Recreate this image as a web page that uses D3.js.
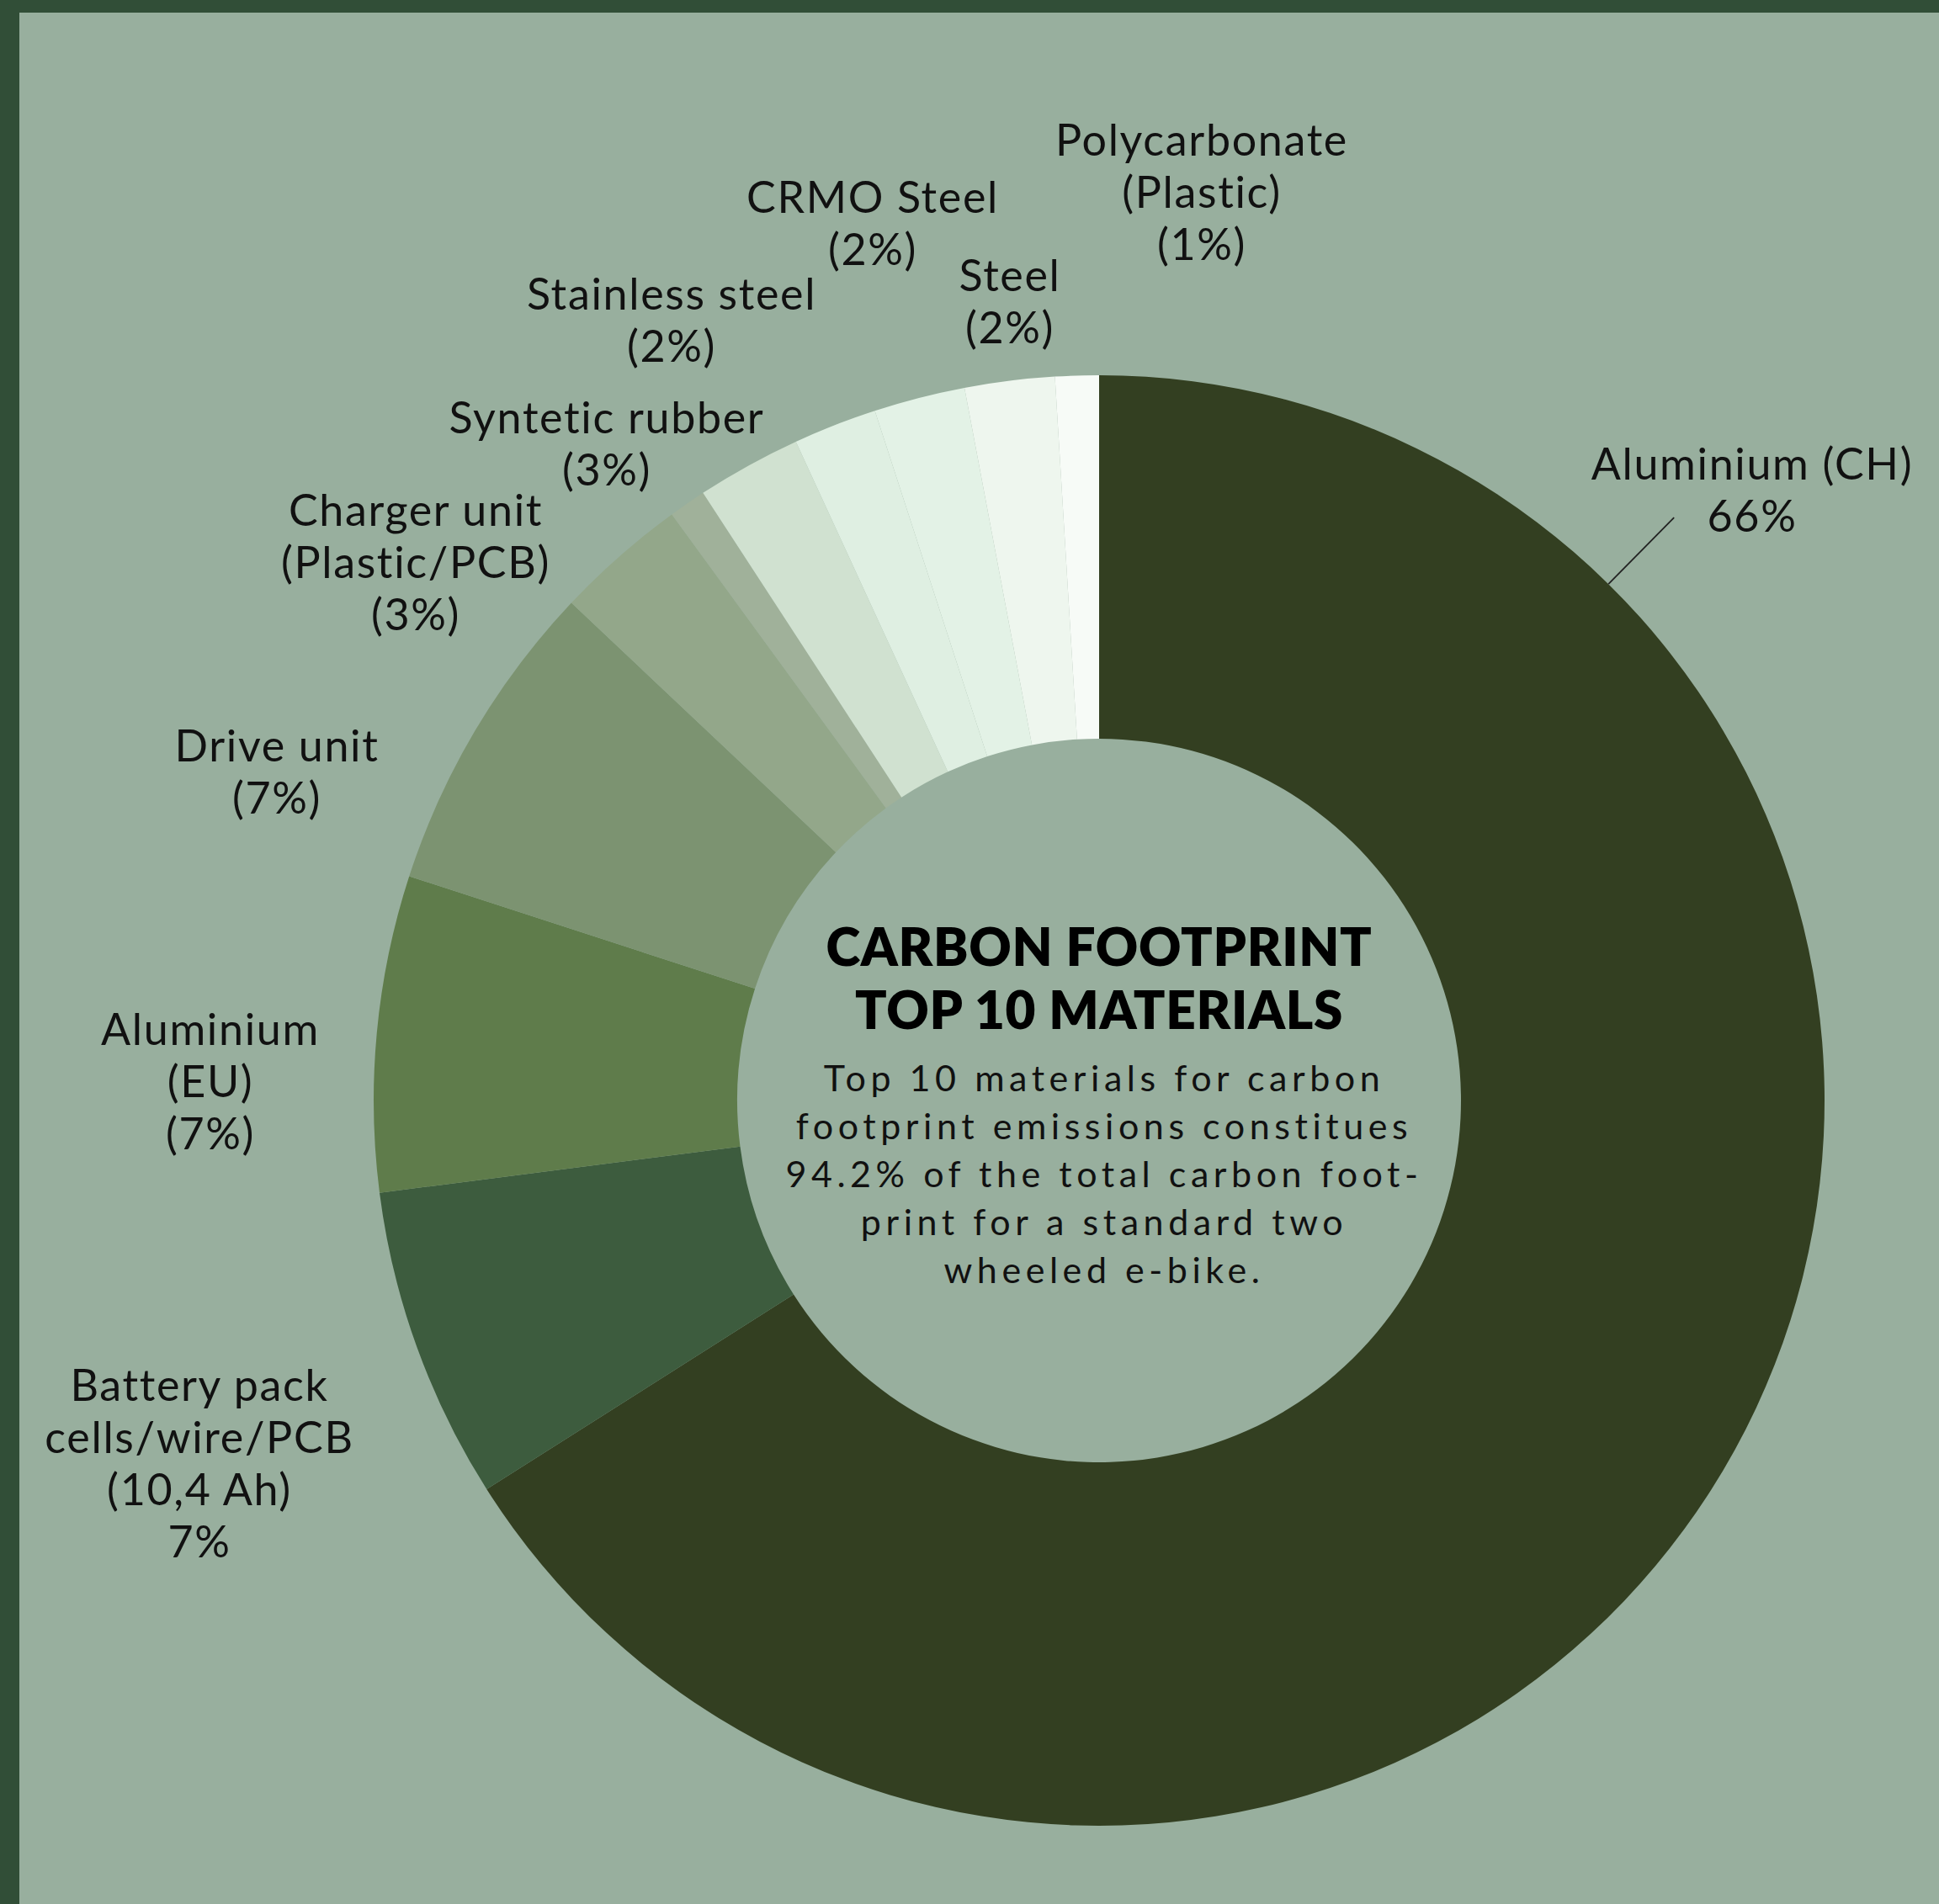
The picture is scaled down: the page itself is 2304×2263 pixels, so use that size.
<!DOCTYPE html>
<html><head><meta charset="utf-8">
<script src="https://cdn.jsdelivr.net/npm/d3@7"></script>
<style>html,body{margin:0;padding:0;background:#98AF9E;overflow:hidden} svg{display:block}</style>
</head><body>
<script>
// ---- data ----
const categories = ["Aluminium (CH)", "Battery pack", "Aluminium (EU)", "Drive unit", "Charger unit", "Other", "Syntetic rubber", "Stainless steel", "CRMO Steel", "Steel", "Polycarbonate"];
const values = [65.97, 6.97, 7.03, 7.03, 2.94, 0.83, 2.33, 1.86, 2.03, 2.0, 0.97];
const labelLines = [
  ["Aluminium (CH)", "66%"],
  ["Battery pack", "cells/wire/PCB", "(10,4 Ah)", "7%"],
  ["Aluminium", "(EU)", "(7%)"],
  ["Drive unit", "(7%)"],
  ["Charger unit", "(Plastic/PCB)", "(3%)"],
  [],
  ["Syntetic rubber", "(3%)"],
  ["Stainless steel", "(2%)"],
  ["CRMO Steel", "(2%)"],
  ["Steel", "(2%)"],
  ["Polycarbonate", "(Plastic)", "(1%)"]
];
const titleLines = ["CARBON FOOTPRINT", "TOP 10 MATERIALS"];
const descLines = ["Top 10 materials for carbon", "footprint emissions constitues", "94.2% of the total carbon foot-", "print for a standard two", "wheeled e-bike."];

// ---- style / layout ----
const W = 2304, H = 2263;
const cx = 1306, cy = 1308, rOuter = 862, rInner = 430;
const colors = ["#333F21", "#3D5C3E", "#5F7C4B", "#7C9371", "#93A78A", "#A0B19A", "#D0E1D0", "#DFEFE2", "#E3F2E6", "#EEF6EE", "#F7FBF7"];
// label anchor (first-line baseline) relative to pie centre
const labelPos = [[776,-738],[-1069,357],[-1056,-66],[-977,-403],[-812,-683],[0,0],[-585,-793],[-508,-940],[-269,-1055],[-106,-962],[122,-1123]];
const lineGap = 62;
const leaderDeg = 44.6;

const svg = d3.select("body").append("svg").attr("width", W).attr("height", H);
svg.append("rect").attr("width", W).attr("height", H).attr("fill", "#98AF9E");
svg.append("rect").attr("x", 0).attr("y", 0).attr("width", W).attr("height", 15).attr("fill", "#314E37");
svg.append("rect").attr("x", 0).attr("y", 0).attr("width", 23).attr("height", H).attr("fill", "#314E37");

const g = svg.append("g").attr("transform", `translate(${cx},${cy})`);
const pie = d3.pie().sort(null).value(d => d)(values);
const arc = d3.arc().innerRadius(rInner).outerRadius(rOuter);
g.selectAll("path.slice").data(pie).join("path").attr("class", "slice")
  .attr("d", arc).attr("fill", (d, i) => colors[i]);

// leader line for largest slice
const leadAngle = leaderDeg * Math.PI / 180;
const p1 = d3.pointRadial(leadAngle, rOuter), p2 = d3.pointRadial(leadAngle, rOuter + 111);
g.append("line").attr("x1", p1[0]).attr("y1", p1[1]).attr("x2", p2[0]).attr("y2", p2[1])
  .attr("stroke", "#222").attr("stroke-width", 1.8);

const labelFont = "Lato, 'Open Sans', sans-serif";
// labels
const lg = g.append("g").attr("font-family", labelFont).attr("font-size", 52).attr("fill", "#111").attr("text-anchor", "middle");
labelLines.forEach((lines, i) => {
  if (!lines.length) return;
  const t = lg.append("text").attr("x", labelPos[i][0]).attr("y", labelPos[i][1]);
  lines.forEach((s, k) => t.append("tspan").attr("x", labelPos[i][0]).attr("y", labelPos[i][1] + k * lineGap).text(s));
});
(function(){
  const probe = lg.append("text").text("Polycarbonate");
  const w = probe.node().getComputedTextLength(); probe.remove();
  const ls = Math.max(-2, Math.min(3, (348 - w) / 13));
  lg.attr("letter-spacing", ls.toFixed(2));
})();

// title
const tg = g.append("g").attr("font-family", labelFont).attr("font-weight", 800).attr("font-size", 62).attr("fill", "#000").attr("text-anchor", "middle");
titleLines.forEach((s, k) => tg.append("text").attr("x", 0).attr("y", -160 + k * 75).text(s));
(function(){
  const w = tg.select("text").node().getComputedTextLength();
  const ls = Math.max(-3, Math.min(6, (649 - w) / 16));
  tg.attr("letter-spacing", ls.toFixed(2));
})();

// description
const dg = g.append("g").attr("font-family", labelFont).attr("font-weight", 400).attr("font-size", 43).attr("fill", "#111").attr("text-anchor", "middle");
descLines.forEach((s, k) => dg.append("text").attr("x", 6).attr("y", -11 + k * 57).text(s));
(function(){
  const n = dg.selectAll("text").nodes()[1];
  const w = n.getComputedTextLength();
  const ls = Math.max(0, (733 - w) / 30);
  dg.attr("letter-spacing", ls.toFixed(2));
})();
</script>
</body></html>
